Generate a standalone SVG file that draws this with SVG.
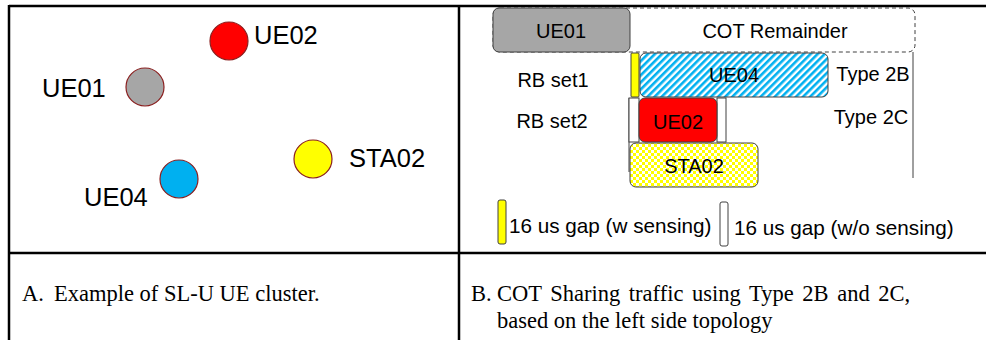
<svg xmlns="http://www.w3.org/2000/svg" width="986" height="340" viewBox="0 0 986 340">
<style>
.lbl{font-family:"Liberation Sans",Arial,sans-serif;fill:#000}
.big{font-size:25.5px}
.mid{font-size:20px}
.leg{font-size:20.7px}
.cap{font-family:"Liberation Serif","Times New Roman",serif;font-size:22.5px;fill:#000}
.node{stroke:#8b2020;stroke-width:1.2}
.box{stroke:#404040;stroke-width:1}
.tbl{stroke:#000;stroke-width:2.5;fill:none}
</style>
<defs>
<pattern id="hatch" width="5" height="5" patternUnits="userSpaceOnUse" patternTransform="rotate(45)">
<rect width="5" height="5" fill="#fff"/>
<rect width="2.6" height="5" fill="#00b0f0"/>
</pattern>
<pattern id="check" width="6" height="6" patternUnits="userSpaceOnUse">
<rect width="6" height="6" fill="#fff"/>
<rect width="3" height="3" fill="#ffff00"/>
<rect x="3" y="3" width="3" height="3" fill="#ffff00"/>
</pattern>
</defs>
<rect width="986" height="340" fill="#fff"/>
<g id="table">
<line class="tbl" x1="9" y1="6" x2="986" y2="6"/>
<line class="tbl" x1="9" y1="5" x2="9" y2="340"/>
<line class="tbl" x1="459" y1="5" x2="459" y2="340"/>
<line class="tbl" x1="9" y1="253" x2="986" y2="253"/>
</g>
<g id="ue02-node"><circle class="node" cx="229" cy="41" r="19" fill="#ff0000"/><text class="lbl big" x="254" y="44">UE02</text></g>
<g id="ue01-node"><circle class="node" cx="145" cy="87" r="19" fill="#a6a6a6"/><text class="lbl big" x="42" y="97">UE01</text></g>
<g id="sta02-node"><circle class="node" cx="313" cy="159" r="19" fill="#ffff00"/><text class="lbl big" x="349" y="167">STA02</text></g>
<g id="ue04-node"><circle class="node" cx="179" cy="179" r="19" fill="#00b0f0"/><text class="lbl big" x="84" y="206">UE04</text></g>
<g id="connectors"></g>
<g id="cot">
<rect x="493" y="8" width="422" height="44" rx="7" fill="none" stroke="#404040" stroke-width="1" stroke-dasharray="4,3"/>
<text class="lbl mid" x="775" y="38" text-anchor="middle">COT Remainder</text>
<line x1="913" y1="52" x2="913" y2="178" stroke="#404040" stroke-width="1"/>
</g>
<g id="ue01-slot"><rect class="box" x="493" y="8" width="137" height="44" rx="6" fill="#a6a6a6"/><text class="lbl mid" x="561" y="38" text-anchor="middle">UE01</text></g>
<g id="ue04-slot">
<rect class="box" x="631" y="53" width="8" height="44" rx="1" fill="#ffff00"/>
<rect class="box" x="640" y="53" width="188" height="44" rx="6" fill="url(#hatch)"/>
<text class="lbl mid" x="734" y="82" text-anchor="middle">UE04</text>
</g>
<g id="ue02-slot">
<line x1="629" y1="98" x2="629" y2="172" stroke="#404040" stroke-width="1"/>
<rect class="box" x="629" y="98" width="10" height="44" fill="#fff"/>
<rect class="box" x="717" y="98" width="9" height="44" fill="#fff"/>
<rect class="box" x="639" y="98" width="78" height="44" rx="6" fill="#ff0000"/>
<text class="lbl mid" x="678" y="129" text-anchor="middle">UE02</text>
</g>
<g id="sta02-slot"><rect class="box" x="630" y="143" width="128" height="44" rx="6" fill="url(#check)"/><text class="lbl mid" x="694" y="173" text-anchor="middle">STA02</text></g>
<g id="labels">
<text class="lbl mid" x="553" y="87" text-anchor="middle">RB set1</text>
<text class="lbl mid" x="552" y="128" text-anchor="middle">RB set2</text>
<text class="lbl mid" x="873" y="81" text-anchor="middle">Type 2B</text>
<text class="lbl mid" x="871" y="124" text-anchor="middle">Type 2C</text>
</g>
<g id="legend">
<rect x="498" y="200" width="8" height="44" rx="2" fill="#ffff00" stroke="#404040" stroke-width="1"/>
<text class="lbl leg" x="509" y="233">16 us gap (w sensing)</text>
<rect x="720" y="202" width="8" height="44" rx="2" fill="#fff" stroke="#404040" stroke-width="1"/>
<text class="lbl leg" x="734" y="235">16 us gap (w/o sensing)</text>
</g>
<g id="captions">
<text class="cap" x="22" y="301">A.</text>
<text class="cap" x="54" y="301">Example of SL-U UE cluster.</text>
<text class="cap" x="471" y="301">B.</text>
<text class="cap" x="497" y="301" word-spacing="3">COT Sharing traffic using Type 2B and 2C,</text>
<text class="cap" x="497" y="328">based on the left side topology</text>
</g>
</svg>
